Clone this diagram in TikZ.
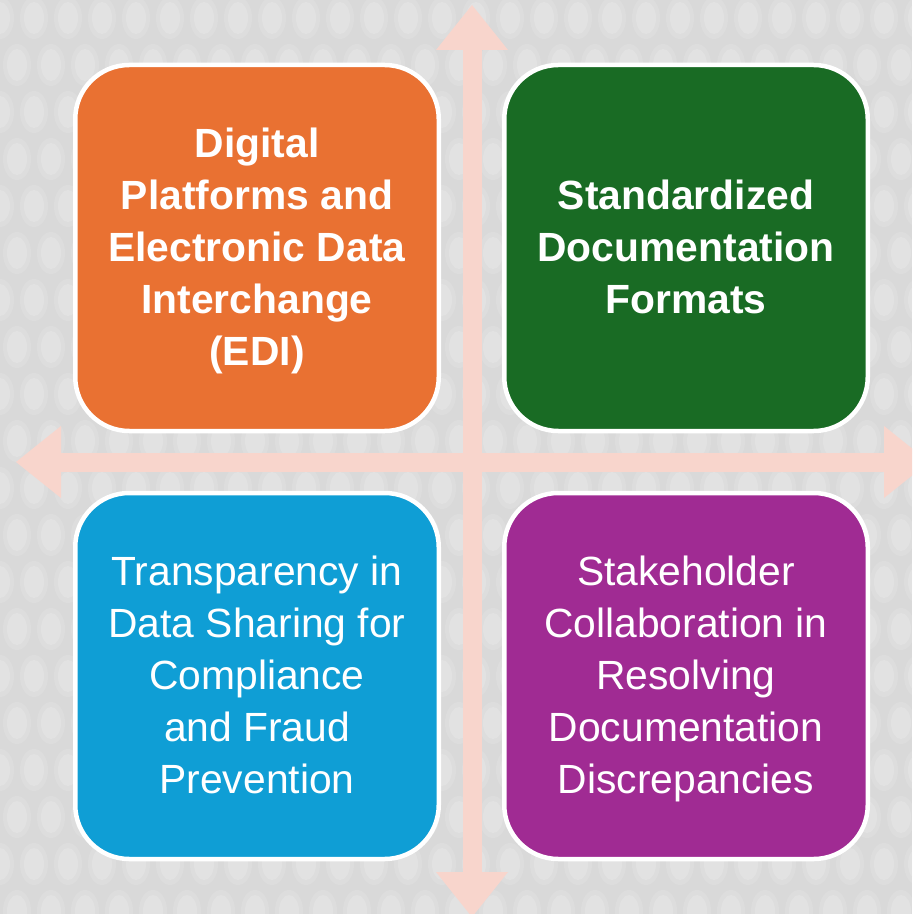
\documentclass[tikz,border=0pt]{standalone}
\usepackage{fontspec}
\setmainfont{Liberation Sans}
\usetikzlibrary{arrows.meta}
\definecolor{bggray}{HTML}{D9D9D9}
\definecolor{dotgray}{HTML}{F2F2F2}
\definecolor{crosspink}{HTML}{F8D5CC}
\definecolor{qorange}{HTML}{E97132}
\definecolor{qgreen}{HTML}{196B24}
\definecolor{qblue}{HTML}{0F9ED5}
\definecolor{qpurple}{HTML}{A02B93}
\newcommand{\qtop}{\rule{0pt}{21pt}}
\begin{document}
\begin{tikzpicture}[x=0.5pt,y=-0.5pt,
		quad/.style={draw=white, line width=2.25pt, rounded corners=27pt, minimum width=181.75pt, minimum height=183pt, inner sep=0pt, align=center, text=white, font=\fontsize{20.4}{26}\selectfont, execute at end node=\strut},
		crossarrow/.style={draw=crosspink, line width=9.5pt, {Triangle[length=22.5pt,width=36pt,line width=0pt]}-{Triangle[length=22.5pt,width=36pt,line width=0pt]}}]
		    	\clip (0,0) rectangle (912,914);
		    	\fill[bggray] (0,0) rectangle (912,914);
		    	\foreach \r in {0,...,19} {
		    		\foreach \c in {0,...,27} {
		    			\pgfmathsetmacro{\dx}{\c*34+17*mod(\r,2)}
		    			\pgfmathsetmacro{\dy}{\r*47+18}
		    			\fill[dotgray, opacity=0.18] (\dx,\dy) ellipse [x radius=7pt, y radius=10.5pt];
		    			\fill[dotgray, opacity=0.25] (\dx,\dy) ellipse [x radius=5pt, y radius=8pt];
		    		}
		    	}
		    	
		    	\coordinate (NT) at (472,5);
		    	\coordinate (NB) at (472,917);
		    	\coordinate (NL) at (16,462);
		    	\coordinate (NR) at (929,462);
		    	\draw[crossarrow] (NT)--(NB);
		    	\draw[crossarrow] (NL)--(NR);
		    	
		    	\node[quad, fill=qorange] (QA) at (257,248) {\qtop\textbf{Digital}\\\textbf{Platforms and}\\\textbf{Electronic Data}\\\textbf{Interchange}\\\textbf{(EDI)}};
		    	\node[quad, fill=qgreen] (QB) at (686,248) {\qtop\textbf{Standardized}\\\textbf{Documentation}\\\textbf{Formats}};
		    	\node[quad, fill=qblue] (QC) at (257,676) {\qtop Transparency in\\Data Sharing for\\Compliance\\and Fraud\\Prevention};
		    	\node[quad, fill=qpurple] (QD) at (686,676) {\qtop Stakeholder\\Collaboration in\\Resolving\\Documentation\\Discrepancies};
		    \end{tikzpicture}
\end{document}
